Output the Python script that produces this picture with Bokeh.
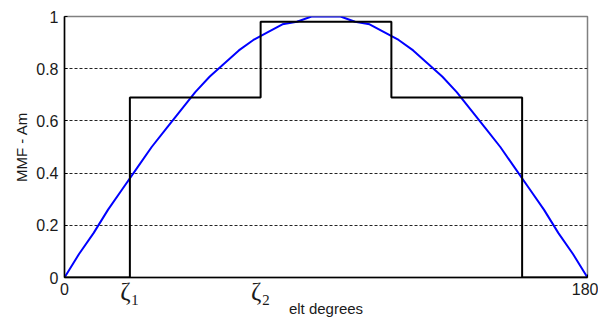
from bokeh.plotting import figure
from bokeh.models import Range1d, FixedTicker, PrintfTickFormatter, LinearAxis
from bokeh.embed import file_html
from bokeh.resources import INLINE

# ---- data ----
angle_deg = [0, 5, 10, 15, 20, 25, 30, 35, 40, 45, 50, 55, 60, 65, 70, 75, 80, 85, 90,
             95, 100, 105, 110, 115, 120, 125, 130, 135, 140, 145, 150, 155, 160, 165, 170, 175, 180]
mmf_fundamental = [0, 0.09, 0.17, 0.26, 0.34, 0.42, 0.5, 0.57, 0.64, 0.71, 0.77, 0.82, 0.87, 0.91,
                   0.94, 0.97, 0.98, 1.0, 1.0, 1.0, 0.98, 0.97, 0.94, 0.91, 0.87, 0.82, 0.77, 0.71,
                   0.64, 0.57, 0.5, 0.42, 0.34, 0.26, 0.17, 0.09, 0]
step_edges = [0, 22.5, 67.5, 112.5, 157.5, 180]
step_levels = [0, 0.69, 0.98, 0.69, 0, 0]
x_ticks = [0, 180]
zeta_ticks = [22.5, 67.5]
zeta_labels = ["ζ₁", "ζ₂"]
y_ticks = [0, 0.2, 0.4, 0.6, 0.8, 1.0]

FONT = "Liberation Sans"
SERIF = "Liberation Serif, DejaVu Serif"
TXT = "#1a1a1a"

p = figure(width=598, height=320, output_backend="svg", toolbar_location=None,
           x_range=Range1d(0, 180), y_range=Range1d(0, 1),
           min_border_left=64, min_border_right=11, min_border_top=16, min_border_bottom=43)
p.background_fill_color = "white"
p.border_fill_color = "white"
p.outline_line_color = "#808080"
p.outline_line_width = 1.5

p.xgrid.visible = False
p.ygrid.ticker = FixedTicker(ticks=y_ticks[1:-1])
p.ygrid.grid_line_color = "#222222"
p.ygrid.grid_line_dash = "3 2"
p.ygrid.grid_line_width = 1

for ax in (p.xaxis[0], p.yaxis[0]):
    ax.axis_line_color = "black"
    ax.axis_line_width = 1.5
    ax.major_tick_out = 0
    ax.major_tick_in = 3
    ax.major_tick_line_color = "black"
    ax.minor_tick_line_color = None
    ax.major_label_text_font = FONT
    ax.major_label_text_font_size = "16px"
    ax.major_label_text_color = TXT
    ax.formatter = PrintfTickFormatter(format="%g")

p.xaxis.ticker = FixedTicker(ticks=x_ticks)
p.xaxis.major_label_standoff = 5
p.yaxis.ticker = FixedTicker(ticks=y_ticks)
p.yaxis.major_label_standoff = 6
p.yaxis.axis_label = "MMF - Am"
p.yaxis.axis_label_text_font = FONT
p.yaxis.axis_label_text_font_size = "15px"
p.yaxis.axis_label_text_font_style = "normal"
p.yaxis.axis_label_text_color = TXT
p.yaxis.axis_label_standoff = 3

# second bottom axis carrying the zeta tick labels and the axis title
zeta_axis = LinearAxis(ticker=FixedTicker(ticks=zeta_ticks),
                       major_label_overrides=dict(zip(zeta_ticks, zeta_labels)),
                       axis_line_color=None, major_tick_line_color=None,
                       minor_tick_line_color=None,
                       major_label_text_font=SERIF, major_label_text_font_size="25px",
                       major_label_text_color=TXT, major_label_standoff=-26,
                       axis_label="elt degrees", axis_label_text_font=FONT,
                       axis_label_text_font_size="15px", axis_label_text_font_style="normal",
                       axis_label_text_color=TXT, axis_label_standoff=-8)
p.add_layout(zeta_axis, "below")

p.line(angle_deg, mmf_fundamental, line_color="#0000ff", line_width=2)
p.step(step_edges, step_levels, mode="after", line_color="black", line_width=2)

open("out.html", "w").write(file_html(p, INLINE))
